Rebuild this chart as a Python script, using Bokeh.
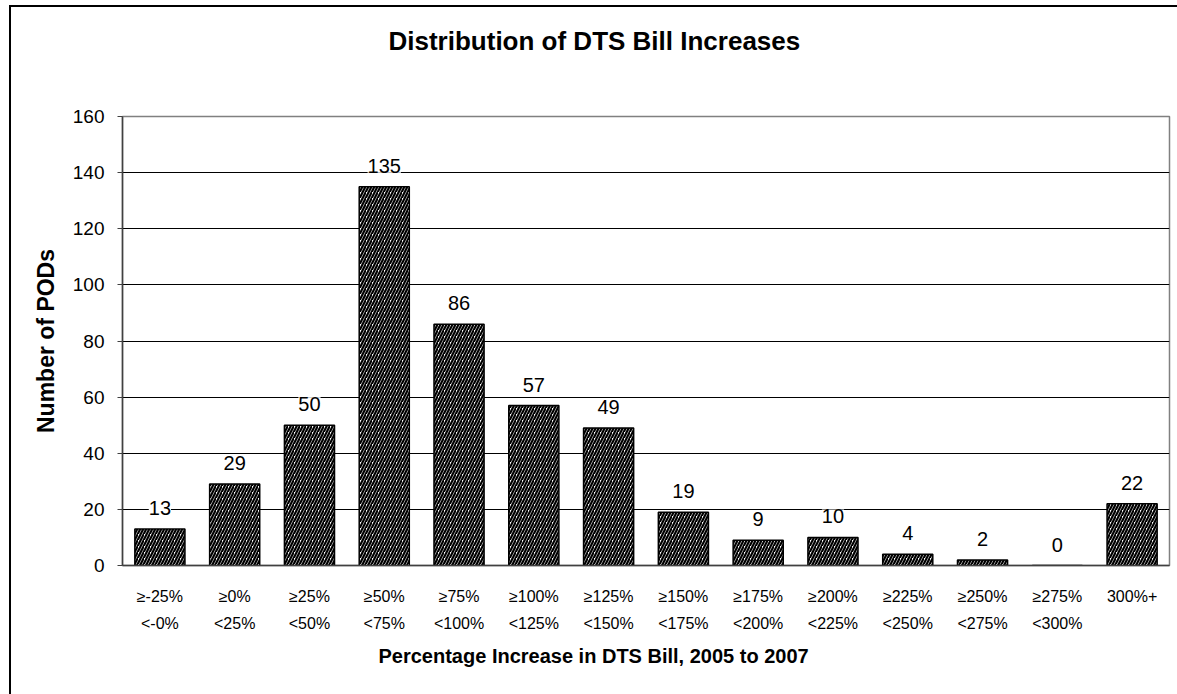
from bokeh.plotting import figure
from bokeh.models import (ColumnDataSource, LabelSet, Title, InlineStyleSheet,
                          Range1d, FactorRange, SingleIntervalTicker)
from bokeh.core.properties import value
from bokeh.embed import file_html
from bokeh.resources import INLINE

# ---- data ----
categories = ["≥-25%\n<-0%", "≥0%\n<25%", "≥25%\n<50%", "≥50%\n<75%",
              "≥75%\n<100%", "≥100%\n<125%", "≥125%\n<150%", "≥150%\n<175%",
              "≥175%\n<200%", "≥200%\n<225%", "≥225%\n<250%", "≥250%\n<275%",
              "≥275%\n<300%", "300%+"]
counts = [13, 29, 50, 135, 86, 57, 49, 19, 9, 10, 4, 2, 0, 22]
title_text = "Distribution of DTS Bill Increases"
x_title = "Percentage Increase in DTS Bill, 2005 to 2007"
y_title = "Number of PODs"

source = ColumnDataSource(dict(cat=categories, n=counts, lbl=[str(c) for c in counts]))

# outer chart border: 2px black lines starting at (9, 5) of the window, running off it
# (background fixed to the viewport, so any other element painting it shows nothing extra)
border_css = InlineStyleSheet(css=":host { background: "
                              "linear-gradient(#000, #000) 9px 5px / 2px 100% no-repeat fixed, "
                              "linear-gradient(#000, #000) 9px 5px / 100% 2px no-repeat fixed, #fff; }")

p = figure(width=1177, height=694,
           x_range=FactorRange(*categories, range_padding=0),
           y_range=Range1d(0, 160), output_backend="svg", toolbar_location=None,
           min_border_left=122, min_border_right=8,
           min_border_top=116, min_border_bottom=129, title=None,
           stylesheets=[border_css])
p.background_fill_color = "white"
p.border_fill_alpha = 0
p.outline_line_color = "#808080"
p.outline_line_width = 1.5

p.vbar(x="cat", top="n", width=0.67, source=source, fill_color="white",
       line_color="black", line_width=1.5, hatch_pattern="right_diagonal_line",
       hatch_color="black", hatch_scale=6, hatch_weight=2.2)

labels = LabelSet(x="cat", y="n", text="lbl", source=source, text_align="center",
                  text_baseline="middle", y_offset=21,
                  text_font=value("Liberation Sans"),
                  text_font_size="20px", text_color="black",
                  background_fill_color="white")
p.add_layout(labels)

# axes
p.yaxis.ticker = SingleIntervalTicker(interval=20)
p.yaxis.minor_tick_line_color = None
p.yaxis.major_tick_out = 5
p.yaxis.major_tick_in = 0
p.yaxis.axis_line_color = "#404040"
p.yaxis.axis_line_width = 1.5
p.yaxis.major_tick_line_color = "#404040"
p.yaxis.major_label_text_font = "Liberation Sans"
p.yaxis.major_label_text_font_size = "19px"
p.yaxis.major_label_text_color = "black"
p.yaxis.major_label_standoff = 13
p.yaxis.axis_label = y_title
p.yaxis.axis_label_text_font = "Liberation Sans"
p.yaxis.axis_label_text_font_style = "bold"
p.yaxis.axis_label_text_font_size = "23px"
p.yaxis.axis_label_text_color = "black"
p.yaxis.axis_label_standoff = 11

p.xaxis.axis_line_color = "#404040"
p.xaxis.axis_line_width = 1.5
p.xaxis.major_tick_line_color = None
p.xaxis.minor_tick_line_color = None
p.xaxis.major_label_text_font = "Liberation Sans"
p.xaxis.major_label_text_font_size = "16px"
p.xaxis.major_label_text_color = "black"
p.xaxis.major_label_standoff = 16
p.xaxis.major_label_text_line_height = 1.6

p.xgrid.grid_line_color = None
p.ygrid.grid_line_color = "black"
p.ygrid.grid_line_width = 1

# spacer between frame and chart title, then the chart title
p.add_layout(Title(text=" ", text_font_size="10px", standoff=48), "above")
p.add_layout(Title(text=title_text, align="left", offset=266, standoff=0,
                   text_font="Liberation Sans", text_font_style="bold",
                   text_font_size="26px", text_color="black"), "above")
# x-axis title
p.add_layout(Title(text=x_title, align="left", offset=256, standoff=16,
                   text_font="Liberation Sans", text_font_style="bold",
                   text_font_size="20px", text_color="black"), "below")

open("out.html", "w").write(file_html(p, INLINE))
